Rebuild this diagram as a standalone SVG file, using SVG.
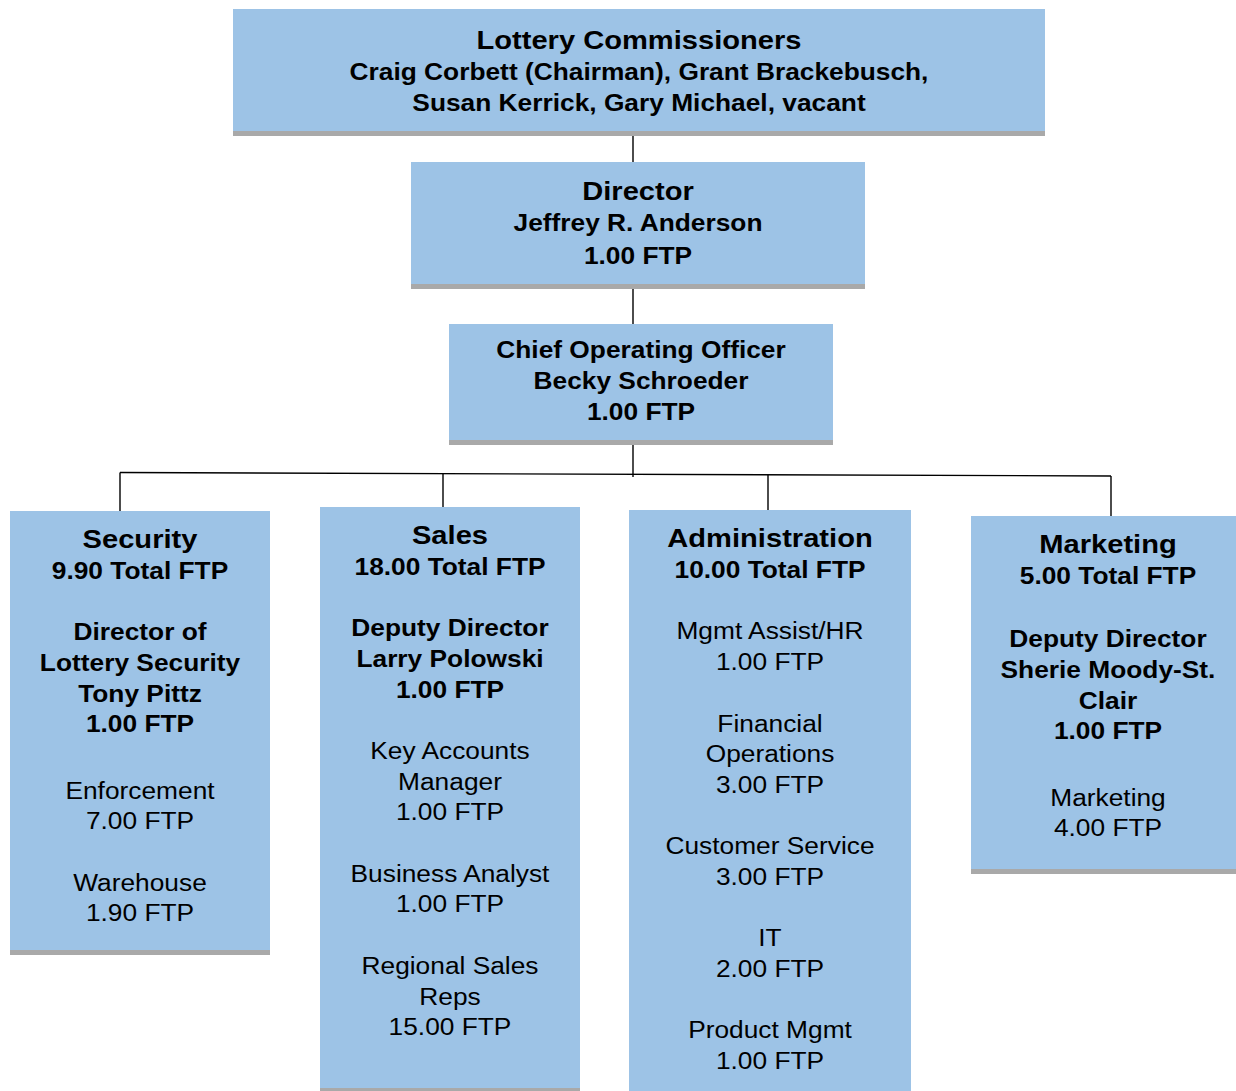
<svg xmlns="http://www.w3.org/2000/svg" width="1236" height="1091" viewBox="0 0 1236 1091">
<style>
.box{fill:#9DC3E6}
.sh{fill:#A9A9A9}
text{font-family:"Liberation Sans",Arial,sans-serif;text-anchor:middle;fill:#000}
.h{font-weight:bold;font-size:26px}
.b{font-weight:bold;font-size:23.5px}
.r{font-size:23.5px}
.c{stroke:#000;stroke-width:1.4;fill:none}
</style>
<rect width="1236" height="1091" fill="#fff"/>
<g id="connectors">
<line class="c" x1="633" y1="135" x2="633" y2="162"/>
<line class="c" x1="633" y1="288" x2="633" y2="324"/>
<line class="c" x1="633" y1="444" x2="633" y2="477"/>
<line class="c" x1="120" y1="472.5" x2="1111" y2="476"/>
<line class="c" x1="120" y1="472.5" x2="120" y2="511"/>
<line class="c" x1="443" y1="473.5" x2="443" y2="507"/>
<line class="c" x1="768" y1="475" x2="768" y2="510"/>
<line class="c" x1="1111" y1="476" x2="1111" y2="516"/>
</g>
<g id="commissioners">
<rect class="sh" x="233" y="131" width="812" height="5"/>
<rect class="box" x="233" y="9" width="812" height="122"/>
<g transform="translate(639 0) scale(1.12 1)">
<text class="h" x="0" y="49">Lottery Commissioners</text>
<text class="b" x="0" y="80">Craig Corbett (Chairman), Grant Brackebusch,</text>
<text class="b" x="0" y="111">Susan Kerrick, Gary Michael, vacant</text>
</g>
</g>
<g id="director">
<rect class="sh" x="411" y="284" width="454" height="5"/>
<rect class="box" x="411" y="162" width="454" height="122"/>
<g transform="translate(638 0) scale(1.12 1)">
<text class="h" x="0" y="200">Director</text>
<text class="b" x="0" y="231">Jeffrey R. Anderson</text>
<text class="b" x="0" y="264">1.00 FTP</text>
</g>
</g>
<g id="coo">
<rect class="sh" x="449" y="440" width="384" height="5"/>
<rect class="box" x="449" y="324" width="384" height="116"/>
<g transform="translate(641 0) scale(1.12 1)">
<text class="b" x="0" y="358">Chief Operating Officer</text>
<text class="b" x="0" y="389">Becky Schroeder</text>
<text class="b" x="0" y="420">1.00 FTP</text>
</g>
</g>
<g id="security">
<rect class="sh" x="10" y="950" width="260" height="5"/>
<rect class="box" x="10" y="511" width="260" height="439"/>
<g transform="translate(140 0) scale(1.12 1)">
<text class="h" x="0" y="548">Security</text>
<text class="b" x="0" y="579">9.90 Total FTP</text>
<text class="b" x="0" y="640">Director of</text>
<text class="b" x="0" y="671">Lottery Security</text>
<text class="b" x="0" y="702">Tony Pittz</text>
<text class="b" x="0" y="732">1.00 FTP</text>
<text class="r" x="0" y="799">Enforcement</text>
<text class="r" x="0" y="829">7.00 FTP</text>
<text class="r" x="0" y="891">Warehouse</text>
<text class="r" x="0" y="921">1.90 FTP</text>
</g>
</g>
<g id="sales">
<rect class="sh" x="320" y="1088" width="260" height="5"/>
<rect class="box" x="320" y="507" width="260" height="581"/>
<g transform="translate(450 0) scale(1.12 1)">
<text class="h" x="0" y="544">Sales</text>
<text class="b" x="0" y="575">18.00 Total FTP</text>
<text class="b" x="0" y="636">Deputy Director</text>
<text class="b" x="0" y="667">Larry Polowski</text>
<text class="b" x="0" y="698">1.00 FTP</text>
<text class="r" x="0" y="759">Key Accounts</text>
<text class="r" x="0" y="790">Manager</text>
<text class="r" x="0" y="820">1.00 FTP</text>
<text class="r" x="0" y="882">Business Analyst</text>
<text class="r" x="0" y="912">1.00 FTP</text>
<text class="r" x="0" y="974">Regional Sales</text>
<text class="r" x="0" y="1005">Reps</text>
<text class="r" x="0" y="1035">15.00 FTP</text>
</g>
</g>
<g id="administration">
<rect class="box" x="629" y="510" width="282" height="590"/>
<g transform="translate(770 0) scale(1.12 1)">
<text class="h" x="0" y="547">Administration</text>
<text class="b" x="0" y="578">10.00 Total FTP</text>
<text class="r" x="0" y="639">Mgmt Assist/HR</text>
<text class="r" x="0" y="670">1.00 FTP</text>
<text class="r" x="0" y="732">Financial</text>
<text class="r" x="0" y="762">Operations</text>
<text class="r" x="0" y="793">3.00 FTP</text>
<text class="r" x="0" y="854">Customer Service</text>
<text class="r" x="0" y="885">3.00 FTP</text>
<text class="r" x="0" y="946">IT</text>
<text class="r" x="0" y="977">2.00 FTP</text>
<text class="r" x="0" y="1038">Product Mgmt</text>
<text class="r" x="0" y="1069">1.00 FTP</text>
</g>
</g>
<g id="marketing">
<rect class="sh" x="971" y="869" width="274" height="5"/>
<rect class="box" x="971" y="516" width="274" height="353"/>
<g transform="translate(1108 0) scale(1.12 1)">
<text class="h" x="0" y="553">Marketing</text>
<text class="b" x="0" y="584">5.00 Total FTP</text>
<text class="b" x="0" y="647">Deputy Director</text>
<text class="b" x="0" y="678">Sherie Moody-St.</text>
<text class="b" x="0" y="709">Clair</text>
<text class="b" x="0" y="739">1.00 FTP</text>
<text class="r" x="0" y="806">Marketing</text>
<text class="r" x="0" y="836">4.00 FTP</text>
</g>
</g>
</svg>
